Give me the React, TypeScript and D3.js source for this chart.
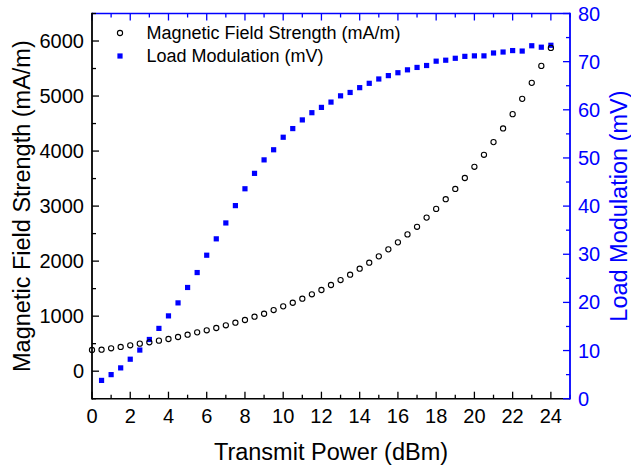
import React from "react";
import * as d3 from "d3";

const fieldX = [0,0.5,1,1.5,2,2.5,3,3.5,4,4.5,5,5.5,6,6.5,7,7.5,8,8.5,9,9.5,10,10.5,11,11.5,12,12.5,13,13.5,14,14.5,15,15.5,16,16.5,17,17.5,18,18.5,19,19.5,20,20.5,21,21.5,22,22.5,23,23.5,24];
const fieldValues = [385,390,416,440,470,500,525,555,585,621,663,706,743,785,834,881,930,990,1044,1111,1178,1244,1317,1397,1475,1566,1656,1753,1862,1971,2087,2214,2341,2486,2624,2791,2949,3125,3312,3511,3714,3932,4163,4411,4671,4949,5240,5548,5875];

const loadX = [0.5,1,1.5,2,2.5,3,3.5,4,4.5,5,5.5,6,6.5,7,7.5,8,8.5,9,9.5,10,10.5,11,11.5,12,12.5,13,13.5,14,14.5,15,15.5,16,16.5,17,17.5,18,18.5,19,19.5,20,20.5,21,21.5,22,22.5,23,23.5,24];
const loadValues = [3.8,5.0,6.4,8.2,10.1,12.3,14.6,17.2,19.9,23.1,26.2,29.8,33.2,36.5,40.1,43.6,46.8,49.6,51.7,54.3,56.1,57.9,59.4,60.5,61.6,62.9,63.6,64.6,65.5,66.4,67.1,67.7,68.3,68.8,69.2,70.1,70.3,70.7,71.1,71.2,71.2,71.8,72.0,72.3,72.2,73.3,73.0,73.4];

const xTicks = [0,2,4,6,8,10,12,14,16,18,20,22,24];
const leftTicks = [0,1000,2000,3000,4000,5000,6000];
const rightTicks = [0,10,20,30,40,50,60,70,80];

const seriesNames = ["Magnetic Field Strength (mA/m)", "Load Modulation (mV)"];
const xTitle = "Transmit Power (dBm)";
const leftTitle = "Magnetic Field Strength (mA/m)";
const rightTitle = "Load Modulation (mV)";

const BLUE = "#0000ff";
const FONT = "'Liberation Sans', Arial, sans-serif";

export default function App() {
  const W = 631, H = 468;
  const L = 92, R = 570, T = 13.5, B = 398.7;
  const x = d3.scaleLinear().domain([0, 25]).range([L, R]);
  const yL = d3.scaleLinear().domain([-500, 6500]).range([B, T]);
  const yR = d3.scaleLinear().domain([0, 80]).range([B, T]);

  const xMinor = d3.range(0, 26, 1).filter((v) => v % 2 !== 0);
  const leftMinor = d3.range(-500, 6501, 1000);
  const rightMinor = d3.range(5, 80, 10);
  const MAJ = 7, MIN = 4;

  return (
    <svg width={W} height={H} style={{ position: "absolute", left: 0, top: 0 }} fontFamily={FONT}>
      <rect width={W} height={H} fill="#fff" />
      {/* squares (load modulation) */}
      {loadX.map((v, i) => (
        <rect key={"s" + i} x={x(v) - 2.6} y={yR(loadValues[i]) - 2.6} width={5.2} height={5.2} fill={BLUE} />
      ))}
      {/* circles (field strength) */}
      {fieldX.map((v, i) => (
        <circle key={"c" + i} cx={x(v)} cy={yL(fieldValues[i])} r={2.6} fill="none" stroke="#000" strokeWidth={1.1} />
      ))}

      {/* bottom axis */}
      <line x1={L} x2={R} y1={B} y2={B} stroke="#000" strokeWidth={1.6} />
      {xTicks.map((t) => (
        <g key={"xb" + t}>
          <line x1={x(t)} x2={x(t)} y1={B} y2={B - MAJ} stroke="#000" strokeWidth={1.3} />
          <text x={x(t)} y={423} textAnchor="middle" fontSize={20} fill="#000">{t}</text>
        </g>
      ))}
      {xMinor.map((t) => (
        <line key={"xbm" + t} x1={x(t)} x2={x(t)} y1={B} y2={B - MIN} stroke="#000" strokeWidth={1.3} />
      ))}

      {/* top axis */}
      <line x1={L} x2={R} y1={T} y2={T} stroke={BLUE} strokeWidth={1.6} />
      {xTicks.map((t) => (
        <line key={"xt" + t} x1={x(t)} x2={x(t)} y1={T} y2={T + MAJ} stroke={BLUE} strokeWidth={1.3} />
      ))}
      {xMinor.map((t) => (
        <line key={"xtm" + t} x1={x(t)} x2={x(t)} y1={T} y2={T + MIN} stroke={BLUE} strokeWidth={1.3} />
      ))}

      {/* left axis */}
      <line x1={L} x2={L} y1={T - 0.8} y2={B + 0.8} stroke="#000" strokeWidth={1.8} />
      {leftTicks.map((t) => (
        <g key={"yl" + t}>
          <line x1={L} x2={L + MAJ} y1={yL(t)} y2={yL(t)} stroke="#000" strokeWidth={1.3} />
          <text x={84} y={yL(t) + 7} textAnchor="end" fontSize={20} fill="#000">{t}</text>
        </g>
      ))}
      {leftMinor.map((t) => (
        <line key={"ylm" + t} x1={L} x2={L + MIN} y1={yL(t)} y2={yL(t)} stroke="#000" strokeWidth={1.3} />
      ))}

      {/* right axis */}
      <line x1={R} x2={R} y1={T - 0.8} y2={B + 0.8} stroke={BLUE} strokeWidth={1.8} />
      {rightTicks.map((t) => (
        <g key={"yr" + t}>
          <line x1={R} x2={R - MAJ} y1={yR(t)} y2={yR(t)} stroke={BLUE} strokeWidth={1.3} />
          <text x={578} y={yR(t) + 7} textAnchor="start" fontSize={20} fill={BLUE}>{t}</text>
        </g>
      ))}
      {rightMinor.map((t) => (
        <line key={"yrm" + t} x1={R} x2={R - MIN} y1={yR(t)} y2={yR(t)} stroke={BLUE} strokeWidth={1.3} />
      ))}

      {/* titles */}
      <text x={(L + R) / 2} y={460} textAnchor="middle" fontSize={23.5} fill="#000">{xTitle}</text>
      <text transform={`translate(30,${(T + B) / 2 + 0}) rotate(-90)`} textAnchor="middle" fontSize={23.5} fill="#000">{leftTitle}</text>
      <text transform={`translate(627,${(T + B) / 2}) rotate(-90)`} textAnchor="middle" fontSize={23.5} fill={BLUE}>{rightTitle}</text>

      {/* legend */}
      <circle cx={120} cy={33} r={2.6} fill="none" stroke="#000" strokeWidth={1.1} />
      <text x={146.5} y={38.5} fontSize={18} fill="#000">{seriesNames[0]}</text>
      <rect x={120 - 2.6} y={56 - 2.6} width={5.2} height={5.2} fill={BLUE} />
      <text x={146.5} y={61.8} fontSize={18} fill="#000">{seriesNames[1]}</text>
    </svg>
  );
}
